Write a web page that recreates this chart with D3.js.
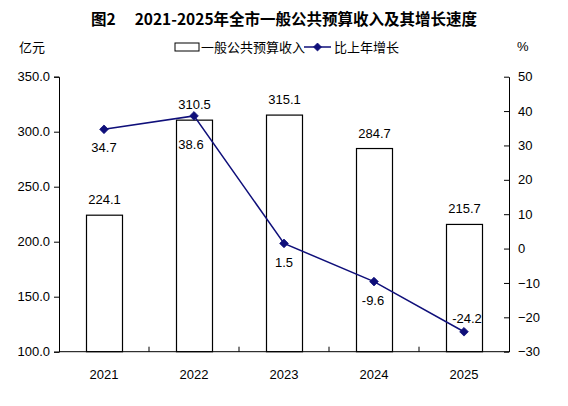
<!DOCTYPE html>
<html lang="zh">
<head>
<meta charset="UTF-8">
<title>图2 2021-2025年全市一般公共预算收入及其增长速度</title>
<script src="https://d3js.org/d3.v7.min.js"></script>
<style>
  body { margin: 0; background: #fff; }
  svg text { font-family: "Liberation Sans", Arial, "Noto Sans CJK SC", sans-serif; fill: #000; }
  .cjk { font-family: "Noto Sans CJK SC", sans-serif; }
  .axis path, .axis line { stroke: #000; }
</style>
</head>
<body>
<div id="chart"></div>
<script>
// data
const years = ["2021", "2022", "2023", "2024", "2025"];
const revenue = [224.1, 310.5, 315.1, 284.7, 215.7];   // 亿元
const growth = [34.7, 38.6, 1.5, -9.6, -24.2];         // %
const leftTicks = [100, 150, 200, 250, 300, 350];
const rightTicks = [-30, -20, -10, 0, 10, 20, 30, 40, 50];

const W = 568, H = 406;
const plot = { left: 59, right: 509, top: 76.7, bottom: 351.7 };

const svg = d3.select("#chart").append("svg")
  .attr("width", W).attr("height", H);

const x = d3.scaleBand().domain(years).range([plot.left, plot.right]).padding(0);
const yL = d3.scaleLinear().domain([100, 350]).range([plot.bottom, plot.top]);
const yR = d3.scaleLinear().domain([-30, 50]).range([plot.bottom, plot.top]);

// title
svg.append("text")
  .attr("class", "cjk")
  .attr("x", 284).attr("y", 25)
  .attr("text-anchor", "middle")
  .style("font-size", "15.5px").style("font-weight", "bold")
  .text("图2\u2003 2021-2025年全市一般公共预算收入及其增长速度");

// units
svg.append("text").attr("class", "cjk").attr("x", 19).attr("y", 52)
  .style("font-size", "13px").text("亿元");
svg.append("text").attr("x", 517).attr("y", 51)
  .style("font-size", "13px").text("%");

// bars
const barW = x.bandwidth() * 0.4;
svg.selectAll(".bar").data(revenue).enter().append("rect")
  .attr("class", "bar")
  .attr("x", (d, i) => x(years[i]) + (x.bandwidth() - barW) / 2 + 0.5)
  .attr("y", d => yL(d))
  .attr("width", barW)
  .attr("height", d => plot.bottom - yL(d))
  .attr("fill", "#fff").attr("stroke", "#000").attr("stroke-width", 1.2);

svg.selectAll(".barLabel").data(revenue).enter().append("text")
  .attr("x", (d, i) => x(years[i]) + x.bandwidth() / 2 + 0.5)
  .attr("y", d => yL(d) - 11)
  .attr("text-anchor", "middle")
  .style("font-size", "13px")
  .text(d => d.toFixed(1));

// axes
const axL = svg.append("g").attr("class", "axis")
  .attr("transform", `translate(${plot.left},0)`)
  .call(d3.axisLeft(yL).tickValues(leftTicks).tickFormat(d3.format(".1f")).tickSize(5).tickPadding(4));
axL.selectAll("text").style("font-size", "13px").style("fill", "#000");

const axR = svg.append("g").attr("class", "axis")
  .attr("transform", `translate(${plot.right},0)`)
  .call(d3.axisRight(yR).tickValues(rightTicks).tickSizeInner(-5).tickSizeOuter(0).tickPadding(9));
axR.selectAll("text").style("font-size", "13px").style("fill", "#000");

// bottom axis with ticks between categories pointing up
const axB = svg.append("g").attr("class", "axis")
  .attr("transform", `translate(0,${plot.bottom})`);
axB.append("line")
  .attr("x1", plot.left).attr("x2", plot.right)
  .attr("stroke", "#000");
axB.selectAll(".sep").data(years.slice(1)).enter().append("line")
  .attr("x1", d => x(d)).attr("x2", d => x(d))
  .attr("y1", 0).attr("y2", -5)
  .attr("stroke", "#000");
axB.selectAll(".cat").data(years).enter().append("text")
  .attr("x", d => x(d) + x.bandwidth() / 2)
  .attr("y", 27)
  .attr("text-anchor", "middle")
  .style("font-size", "13px")
  .text(d => d);

// growth line
const lineColor = "#0f0f7a";
const line = d3.line()
  .x((d, i) => x(years[i]) + x.bandwidth() / 2)
  .y(d => yR(d));
svg.append("path").datum(growth)
  .attr("d", line)
  .attr("fill", "none").attr("stroke", lineColor).attr("stroke-width", 1.5);

svg.selectAll(".pt").data(growth).enter().append("path")
  .attr("transform", (d, i) => `translate(${x(years[i]) + x.bandwidth() / 2},${yR(d)})`)
  .attr("d", d3.symbol(d3.symbolDiamond2, 48))
  .attr("fill", lineColor).attr("stroke", lineColor).attr("stroke-width", 0.8);

// label placement for growth values
const gDy = [23, 33, 24, 23, -9];
const gDx = [0, -3, 0, -1, 3];
svg.selectAll(".gLabel").data(growth).enter().append("text")
  .attr("x", (d, i) => x(years[i]) + x.bandwidth() / 2 + gDx[i])
  .attr("y", (d, i) => yR(d) + gDy[i])
  .attr("text-anchor", "middle")
  .style("font-size", "13px")
  .text(d => d.toFixed(1));

// legend
const lg = svg.append("g");
lg.append("rect").attr("x", 175).attr("y", 43).attr("width", 24).attr("height", 8)
  .attr("fill", "#fff").attr("stroke", "#000");
lg.append("text").attr("class", "cjk").attr("x", 201).attr("y", 52)
  .style("font-size", "13px").text("一般公共预算收入");
lg.append("line").attr("x1", 304).attr("x2", 331).attr("y1", 47).attr("y2", 47)
  .attr("stroke", lineColor).attr("stroke-width", 1.5);
lg.append("path").attr("transform", "translate(317.5,47)")
  .attr("d", d3.symbol(d3.symbolDiamond2, 40))
  .attr("fill", lineColor).attr("stroke", lineColor).attr("stroke-width", 0.8);
lg.append("text").attr("class", "cjk").attr("x", 334).attr("y", 52)
  .style("font-size", "13px").text("比上年增长");
</script>
</body>
</html>
